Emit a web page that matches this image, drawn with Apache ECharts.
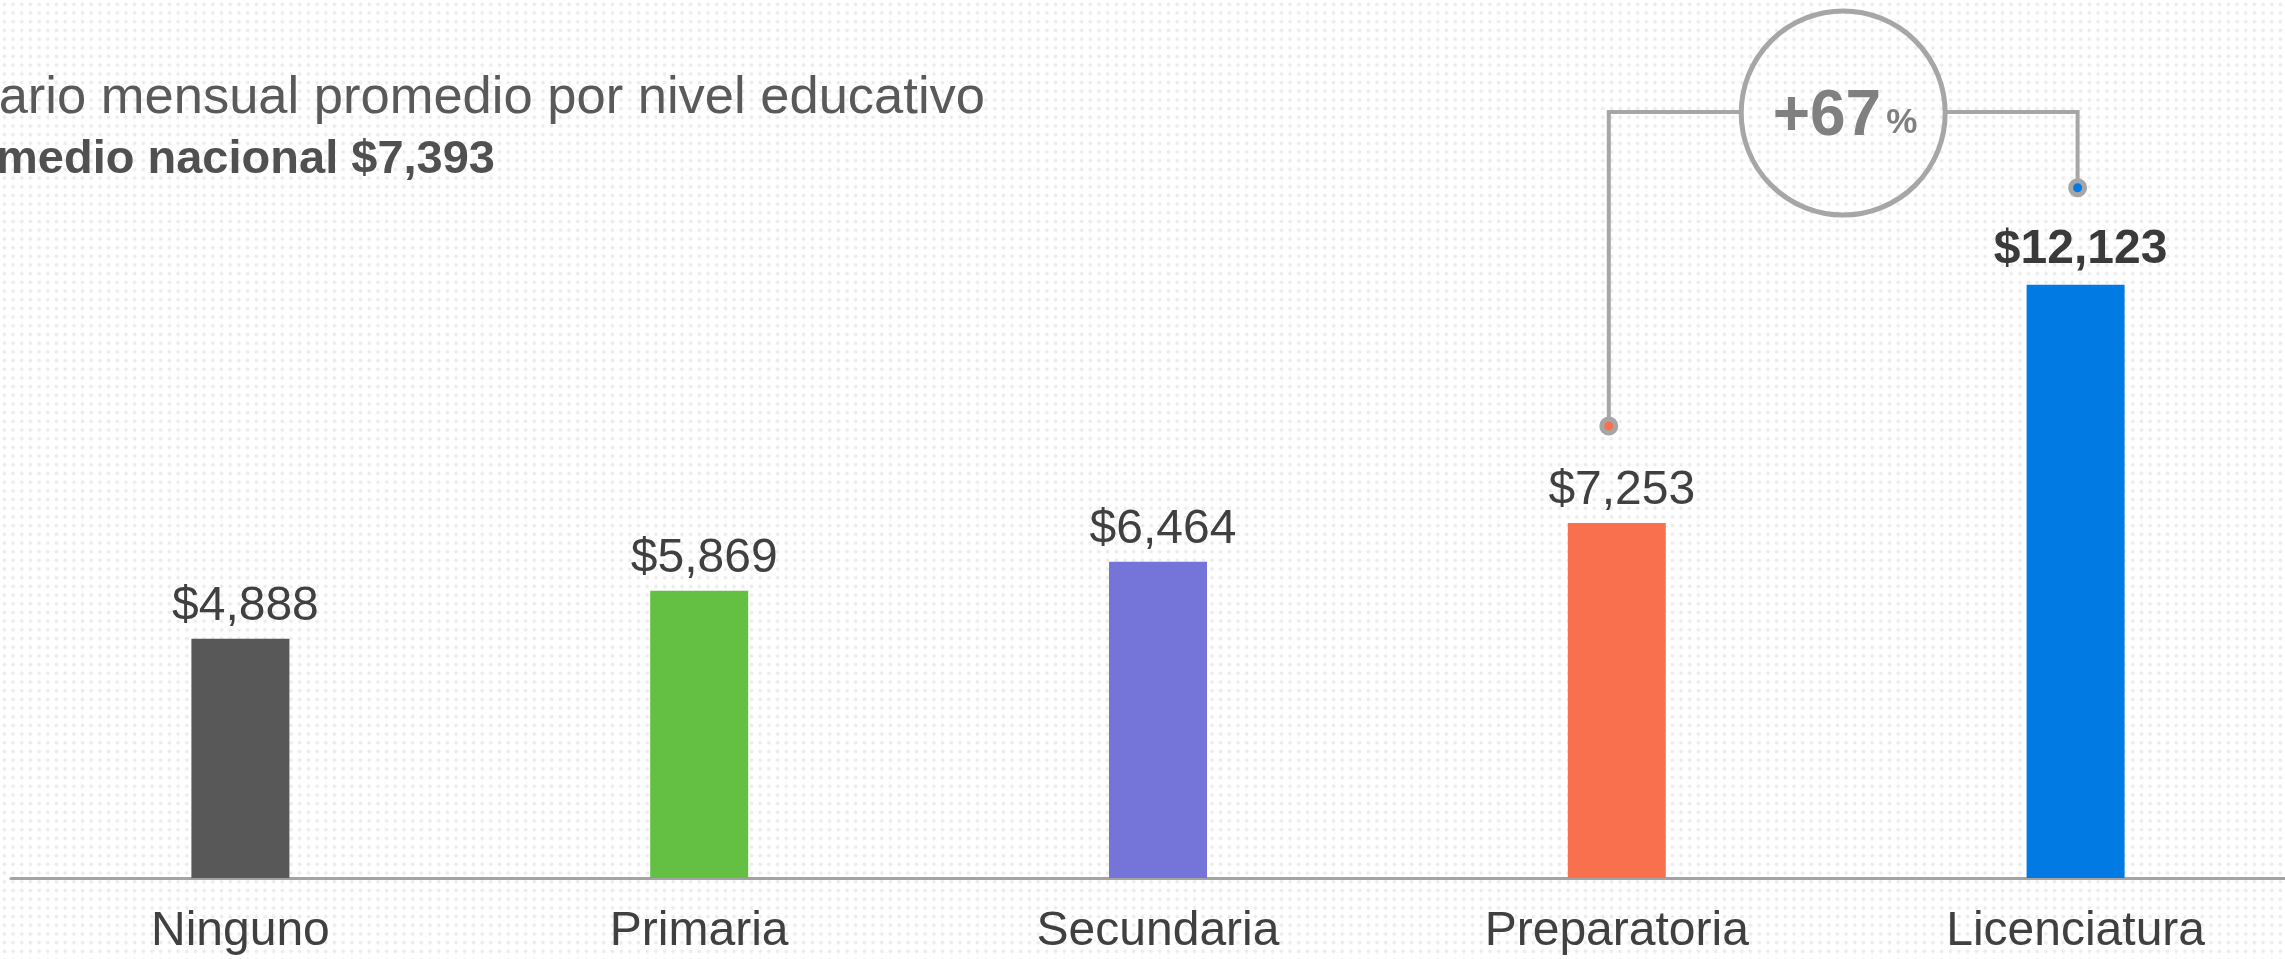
<!DOCTYPE html>
<html>
<head>
<meta charset="utf-8">
<script src="https://cdn.jsdelivr.net/npm/echarts@6/dist/echarts.min.js"></script>
<style>
    html, body {
        margin: 0;
        padding: 0;
        background-color: #ffffff;
        background-image: radial-gradient(circle, #ececec 1.7px, transparent 2.2px);
        background-size: 8.7px 8.7px;
    }
    #main {
        width: 2285px;
        height: 959px;
    }
</style>
</head>
<body>
<div id="main"></div>
<script>
    // datos
    const categories = ['Ninguno', 'Primaria', 'Secundaria', 'Preparatoria', 'Licenciatura'];
    const salaries = [4888, 5869, 6464, 7253, 12123];
    const nationalAverage = 7393;
    const subtitleText = 'Salario mensual promedio por nivel educativo';
    const compareFrom = 3; // Preparatoria
    const compareTo = 4;   // Licenciatura

    const palette = ['#585858', '#63c042', '#7574d9', '#f9704f', '#017ae3'];
    const fontFamily = '"Liberation Sans", Arial, sans-serif';

    const money = v => '$' + v.toLocaleString('en-US');

    let myChart = echarts.init(document.getElementById('main'));

    let option = {
        backgroundColor: 'transparent',
        animation: false,
        textStyle: {fontFamily: fontFamily},
        grid: {
            left: 11,
            width: 2294,
            top: 95,
            height: 783,
            outerBoundsMode: 'none'
        },
        xAxis: {
            type: 'category',
            data: categories,
            axisTick: {show: false},
            axisLine: {lineStyle: {color: '#a3a3a3', width: 3}},
            axisLabel: {
                color: '#404040',
                fontSize: 48,
                fontFamily: fontFamily,
                margin: 30
            }
        },
        yAxis: {
            type: 'value',
            min: 0,
            max: 16000,
            show: false
        },
        series: [
            {
                type: 'bar',
                barWidth: 98,
                label: {
                    show: true,
                    position: 'top',
                    distance: 8,
                    offset: [5, 0],
                    color: '#404040',
                    fontSize: 48,
                    fontFamily: fontFamily,
                    formatter: p => money(p.value)
                },
                data: salaries.map((v, i) => ({
                    value: v,
                    itemStyle: {color: palette[i]},
                    label: i === compareTo ? {fontWeight: 'bold', color: '#3a3a3a', distance: 11} : {}
                }))
            }
        ]
    };
    myChart.setOption(option);

    // anotaciones: subtitulo y comparacion +67%
    function drawGraphics() {
        const pFrom = myChart.convertToPixel({seriesIndex: 0}, [compareFrom, salaries[compareFrom]]);
        const pTo = myChart.convertToPixel({seriesIndex: 0}, [compareTo, salaries[compareTo]]);
        const leftX = pFrom[0] - 8;
        const rightX = pTo[0] + 2;
        const cx = (leftX + rightX) / 2;
        const lineY = 112;
        const cy = 113;
        const r = 102;
        const dotLift = 97;
        const pct = Math.round((salaries[compareTo] / salaries[compareFrom] - 1) * 100);
        const lineStyle = {stroke: '#a6a6a6', lineWidth: 4, fill: null};

        myChart.setOption({
            graphic: [
                {
                    type: 'text', x: 985, y: 125,
                    style: {
                        text: subtitleText, align: 'right', verticalAlign: 'bottom',
                        fill: '#595959', font: '52.5px ' + fontFamily
                    }
                },
                {
                    type: 'text', x: 495, y: 184,
                    style: {
                        text: 'Promedio nacional ' + money(nationalAverage), align: 'right', verticalAlign: 'bottom',
                        fill: '#505050', font: 'bold 47px ' + fontFamily
                    }
                },
                {
                    type: 'polyline',
                    shape: {points: [[leftX, pFrom[1] - dotLift], [leftX, lineY], [cx - r, lineY]]},
                    style: lineStyle
                },
                {
                    type: 'polyline',
                    shape: {points: [[cx + r, lineY], [rightX, lineY], [rightX, pTo[1] - dotLift]]},
                    style: lineStyle
                },
                {
                    type: 'circle',
                    shape: {cx: cx, cy: cy, r: r},
                    style: {stroke: '#a6a6a6', lineWidth: 5, fill: 'transparent'}
                },
                {
                    type: 'circle',
                    shape: {cx: leftX, cy: pFrom[1] - dotLift, r: 7},
                    style: {fill: palette[compareFrom], stroke: '#a6a6a6', lineWidth: 5}
                },
                {
                    type: 'circle',
                    shape: {cx: rightX, cy: pTo[1] - dotLift, r: 7},
                    style: {fill: palette[compareTo], stroke: '#a6a6a6', lineWidth: 5}
                },
                {
                    type: 'text', x: cx + 38, y: 149,
                    style: {
                        text: '+' + pct, align: 'right', verticalAlign: 'bottom',
                        fill: '#808080', font: 'bold 64px ' + fontFamily
                    }
                },
                {
                    type: 'text', x: cx + 43, y: 141,
                    style: {
                        text: '%', align: 'left', verticalAlign: 'bottom',
                        fill: '#808080', font: 'bold 35px ' + fontFamily
                    }
                }
            ]
        });
    }
    drawGraphics();

    window.onresize = function () {
        if (myChart) {
            myChart.resize();
            drawGraphics();
        }
    };
</script>
</body>
</html>
